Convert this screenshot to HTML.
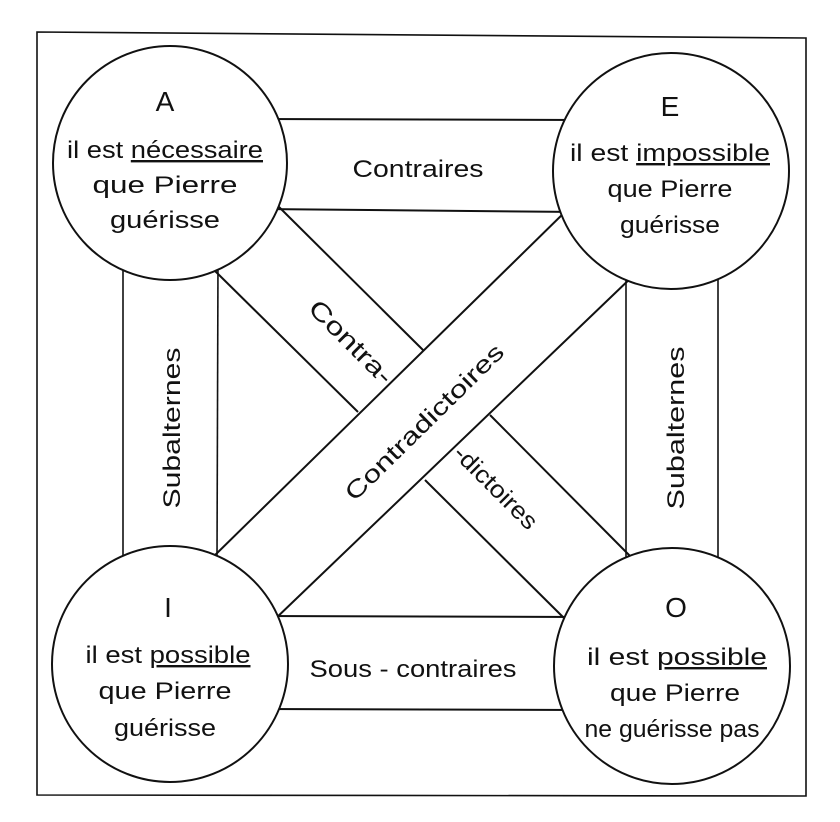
<!DOCTYPE html>
<html><head><meta charset="utf-8"><style>
html,body{margin:0;padding:0;background:#fff;}
svg{display:block}
text{font-family:"Liberation Sans",sans-serif;fill:#111;}
</style></head><body>
<svg width="840" height="822" viewBox="0 0 840 822" xmlns="http://www.w3.org/2000/svg">
<g stroke="#111" stroke-width="2" fill="none">
<path d="M37 32 L806 38 L806 796 L37 795 Z" stroke-width="1.6"/>
<line x1="260" y1="119" x2="580" y2="120"/>
<line x1="260" y1="209" x2="580" y2="212"/>
<line x1="260" y1="616" x2="580" y2="617"/>
<line x1="260" y1="709" x2="580" y2="710"/>
<line x1="123" y1="260" x2="123" y2="560" stroke-width="1.6"/>
<line x1="218" y1="260" x2="217" y2="560" stroke-width="1.6"/>
<line x1="626" y1="260" x2="626" y2="560" stroke-width="1.6"/>
<line x1="718" y1="260" x2="718" y2="560" stroke-width="1.6"/>
<line x1="570" y1="207" x2="210" y2="560"/>
<line x1="635" y1="274" x2="272" y2="622"/>
<line x1="274" y1="202" x2="423" y2="350"/>
<line x1="490" y1="415" x2="634" y2="560"/>
<line x1="212" y1="268" x2="358" y2="412"/>
<line x1="425" y1="480" x2="570" y2="624"/>
<circle cx="170" cy="163" r="117" fill="#fff"/>
<circle cx="671" cy="171" r="118" fill="#fff"/>
<circle cx="170" cy="664" r="118" fill="#fff"/>
<circle cx="672" cy="666" r="118" fill="#fff"/>
</g>
<g font-size="24" text-anchor="middle">
<text x="165" y="111" font-size="28">A</text>
<text x="165" y="158" textLength="196" lengthAdjust="spacingAndGlyphs">il est <tspan text-decoration="underline">nécessaire</tspan></text>
<text x="165" y="193" textLength="145" lengthAdjust="spacingAndGlyphs">que Pierre</text>
<text x="165" y="228" textLength="110" lengthAdjust="spacingAndGlyphs">guérisse</text>

<text x="670" y="116" font-size="28">E</text>
<text x="670" y="161" textLength="200" lengthAdjust="spacingAndGlyphs">il est <tspan text-decoration="underline">impossible</tspan></text>
<text x="670" y="197" textLength="125" lengthAdjust="spacingAndGlyphs">que Pierre</text>
<text x="670" y="233" textLength="100" lengthAdjust="spacingAndGlyphs">guérisse</text>

<text x="168" y="617" font-size="28">I</text>
<text x="168" y="663" textLength="165" lengthAdjust="spacingAndGlyphs">il est <tspan text-decoration="underline">possible</tspan></text>
<text x="165" y="699" textLength="133" lengthAdjust="spacingAndGlyphs">que Pierre</text>
<text x="165" y="736" textLength="102" lengthAdjust="spacingAndGlyphs">guérisse</text>

<text x="676" y="617" font-size="28">O</text>
<text x="677" y="665" textLength="180" lengthAdjust="spacingAndGlyphs">il est <tspan text-decoration="underline">possible</tspan></text>
<text x="675" y="701" textLength="130" lengthAdjust="spacingAndGlyphs">que Pierre</text>
<text x="672" y="737" textLength="175" lengthAdjust="spacingAndGlyphs">ne guérisse pas</text>

<text x="418" y="177" textLength="131" lengthAdjust="spacingAndGlyphs">Contraires</text>
<text x="413" y="677" textLength="207" lengthAdjust="spacingAndGlyphs">Sous - contraires</text>
<text transform="translate(180,428) rotate(-90)" x="0" y="0" textLength="161" lengthAdjust="spacingAndGlyphs">Subalternes</text>
<text transform="translate(684,428) rotate(-90)" x="0" y="0" textLength="163" lengthAdjust="spacingAndGlyphs">Subalternes</text>
<text transform="translate(430,428) rotate(-44.5)" x="0" y="0" textLength="212" lengthAdjust="spacingAndGlyphs">Contradictoires</text>
<text transform="translate(345,348) rotate(45)" x="0" y="0" font-size="25" textLength="108" lengthAdjust="spacingAndGlyphs">Contra-</text>
<text transform="translate(490,493) rotate(45)" x="0" y="0" font-size="24" textLength="108" lengthAdjust="spacingAndGlyphs">-dictoires</text>
</g>
</svg>
</body></html>
